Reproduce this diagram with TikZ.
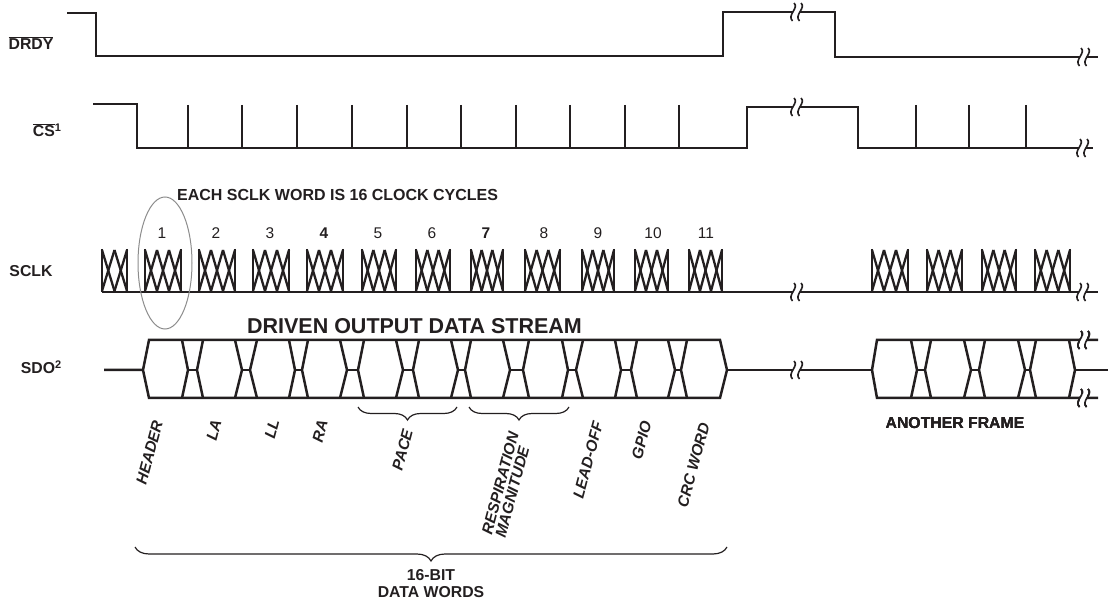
\documentclass[tikz,border=0pt]{standalone}
\usepackage{fontspec}
\setmainfont{Liberation Sans}
\usetikzlibrary{decorations.pathreplacing}
\definecolor{ink}{HTML}{231F20}
\tikzset{
  wave/.style={line width=2.5pt,ink},
  zig/.style={line width=2.3pt,ink},
  brk/.style={line width=1.6pt,ink},
  biglab/.style={inner sep=0pt,font=\fontsize{15.8}{17}\selectfont\bfseries,text=ink},
  num/.style={inner sep=0pt,font=\fontsize{15.5}{16}\selectfont,text=ink},
  slant/.style={inner sep=0pt,rotate=75,align=left,font=\fontsize{15.5}{14}\selectfont\bfseries\itshape,text=ink},
  brace/.style={line width=1.2pt,ink,decorate,decoration={brace,mirror,amplitude=#1}}
}
\newcommand{\footmark}[1]{\raisebox{5pt}{\fontsize{11}{11}\selectfont #1}}
% break mark on a trace
\newcommand{\tracebreak}[2]{
  \begin{scope}[shift={(#1,#2)}]
    \fill[white] (-3.5,-4) rectangle (3.5,4);
    \foreach \dx in {-3.5,3.5}
      \draw[brk] (\dx+1.5,-9) .. controls (\dx+7,-4) and (\dx-6,3) .. (\dx,9);
  \end{scope}
}
% SDO hourglass between two words
\newcommand{\sdocross}[4]{
  \draw[wave] (#1,340) -- (#2,370) -- (#1,398);
  \draw[wave] (#4,340) -- (#3,370) -- (#4,398);
  \draw[wave] (#2,370) -- (#3,370);
}
\begin{document}
\begin{tikzpicture}[x=1pt,y=-1pt]
  \useasboundingbox (0,0) rectangle (1109,601);

  % DRDY
  \node[biglab] (drdy) at (31,43) {$\overline{\hbox{DRDY}}$};
  \draw[wave] (67,13) -- (96,13) -- (96,56) -- (723,56) -- (723,12) -- (835,12) -- (835,57) -- (1098,57);
  \tracebreak{796}{12}
  \tracebreak{1083}{57}

  % CS
  \node[biglab] (cs) at (47,130) {$\overline{\hbox{CS}}$\footmark{1}};
  \draw[wave] (93,104) -- (137,104) -- (137,148) -- (747,148) -- (747,107) -- (858,107) -- (858,148) -- (1093,148);
  \foreach \x in {188,242,297,352,407,461,516,570,625,679,916,969,1026}
    \draw[wave] (\x,105) -- (\x,148);
  \tracebreak{796}{107}
  \tracebreak{1082}{148}

  % SCLK
  \node[biglab] (sclk) at (31,271) {SCLK};
  \node[biglab,anchor=west,font=\fontsize{16}{17}\selectfont\bfseries] (each) at (177,195) {EACH SCLK WORD IS 16 CLOCK CYCLES};
  \draw[wave] (102,292) -- (872,292);
  \draw[wave] (872,292) -- (1098,292);
  \foreach \a/\b/\n in {102/127/2,145/181/3,199/235/3,253/289/3,307/343/3,362/396/3,416/450/3,
      471/503/3,525/560/3,582/614/3,635/668/3,689/722/3,872/908/3,927/962/3,982/1016/3,1035/1070/3}{
    \draw[wave] (\a,249) -- (\a,292);
    \draw[wave] (\b,249) -- (\b,292);
    \pgfmathsetmacro{\w}{(\b-\a)/\n}
    \foreach \i in {1,...,\n}{
      \pgfmathsetmacro{\xl}{\a+(\i-1)*\w}
      \pgfmathsetmacro{\xr}{\a+\i*\w}
      \pgfmathsetmacro{\ya}{isodd(\i) ? 250 : 291}
      \pgfmathsetmacro{\yb}{isodd(\i) ? 291 : 250}
      \draw[zig] (\xl,\ya) -- (\xr,\yb);
      \draw[zig] (\xl,\yb) -- (\xr,\ya);
    }
  }
  \tracebreak{796}{292}
  \tracebreak{1082}{292}

  % word numbers
  \foreach \x/\t in {162/1,216/2,270/3,378/5,432/6,544/8,598/9,653/10,706/11}
    \node[num] (n\t) at (\x,233) {\t};
  \node[num,font=\fontsize{15.5}{16}\selectfont\bfseries] (n4) at (324,233) {4};
  \node[num,font=\fontsize{15.5}{16}\selectfont\bfseries] (n7) at (486,233) {7};

  % ring round word 1
  \draw[line width=1pt,black!45] (165,263) ellipse [x radius=27,y radius=66];

  % SDO
  \node[biglab] (sdo) at (41,367) {SDO\footmark{2}};
  \node[biglab,font=\fontsize{21.5}{23}\selectfont\bfseries] (driven) at (414.5,326) {DRIVEN OUTPUT DATA STREAM};
  \draw[wave] (104,370) -- (143,370) -- (149,340) -- (720,340) -- (727,370) -- (720,398) -- (149,398) -- (143,370);
  \foreach \a/\b/\c/\d in {182/188/197/203,235/242/250/257,289/295/302/308,340/347/358/364,
      396/403/413/419,451/458/465/471,503/510/523/529,562/568/576/583,615/621/631/637,668/675/681/687}
    \sdocross{\a}{\b}{\c}{\d}
  \draw[wave] (727,370) -- (872,370);
  \tracebreak{796}{370}

  % second frame
  \draw[wave] (872,370) -- (877,340) -- (1098,340);
  \draw[wave] (872,370) -- (877,398) -- (1098,398);
  \draw[wave] (1069,340) -- (1075,370) -- (1069,398);
  \draw[wave] (1075,370) -- (1108,370);
  \foreach \a/\b/\c/\d in {911/917/925/931,964/971/979/985,1018/1025/1030/1036}
    \sdocross{\a}{\b}{\c}{\d}
  \tracebreak{1083}{340}
  \tracebreak{1083}{398}
  \node[biglab] (another) at (955,423) {ANOTHER FRAME};

  % words
  \node[slant] (header) at (149.5,452.5) {HEADER};
  \node[slant] (la) at (214,430) {LA};
  \node[slant] (ll) at (272,429) {LL};
  \node[slant] (ra) at (320,431) {RA};
  \node[slant] (pace) at (402.5,450) {PACE};
  \node[slant] (resp) at (507,485) {RESPIRATION\\MAGNITUDE};
  \node[slant] (leadoff) at (588,460) {LEAD-OFF};
  \node[slant] (gpio) at (641.5,440) {GPIO};
  \node[slant] (crc) at (693.5,465) {CRC WORD};

  % braces
  \draw[brace=13pt] (358,407) -- (457,407);
  \draw[brace=13pt] (469,407) -- (569,407);
  \draw[brace=14pt] (135,547) -- (727,547);
  \node[biglab] (bit) at (431,575) {16-BIT};
  \node[biglab] (data) at (431,592) {DATA WORDS};
\end{tikzpicture}
\end{document}
